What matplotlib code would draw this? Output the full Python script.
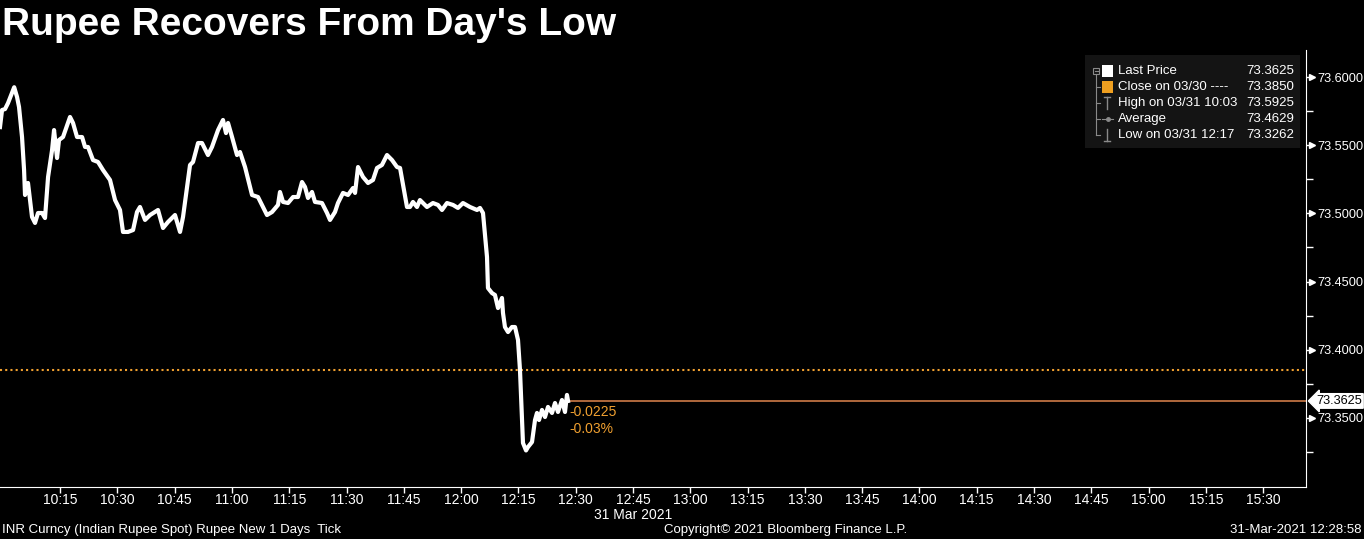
import numpy as np
import pandas as pd
import matplotlib
matplotlib.use("Agg")
import matplotlib.pyplot as plt
import matplotlib.dates as mdates
import matplotlib.transforms as mtransforms
from matplotlib.patches import Rectangle

plt.rcParams['font.family'] = ['Liberation Sans', 'DejaVu Sans']

# INR spot ticks, 31 Mar 2021
times = ["09:59:17", "09:59:49", "10:00:36", "10:01:23", "10:03:00", "10:03:45", "10:04:16",
         "10:05:03", "10:05:35", "10:05:50", "10:06:37", "10:07:40", "10:08:27", "10:09:14",
         "10:10:17", "10:11:04", "10:11:52", "10:12:55", "10:13:26", "10:14:13", "10:14:44",
         "10:15:47", "10:17:37", "10:18:24", "10:19:27", "10:20:46", "10:21:33", "10:22:20",
         "10:23:38", "10:24:57", "10:26:15", "10:28:05", "10:29:24", "10:30:42", "10:31:29",
         "10:32:48", "10:34:07", "10:35:09", "10:35:56", "10:37:15", "10:38:34", "10:40:39",
         "10:41:58", "10:43:16", "10:45:06", "10:46:25", "10:47:12", "10:49:02", "10:49:49",
         "10:51:08", "10:52:10", "10:53:44", "10:54:47", "10:56:22", "10:57:40", "10:58:27",
         "10:58:59", "11:00:02", "11:01:20", "11:02:07", "11:03:26", "11:05:16", "11:06:50",
         "11:09:11", "11:10:30", "11:12:04", "11:12:35", "11:13:23", "11:14:41", "11:16:00",
         "11:17:18", "11:18:21", "11:19:08", "11:19:55", "11:20:58", "11:21:45", "11:23:35",
         "11:24:54", "11:25:41", "11:26:59", "11:27:46", "11:29:05", "11:30:24", "11:31:42",
         "11:32:14", "11:33:01", "11:34:19", "11:35:38", "11:36:56", "11:37:59", "11:39:17",
         "11:40:36", "11:41:55", "11:43:13", "11:44:01", "11:45:50", "11:46:37", "11:47:24",
         "11:48:27", "11:49:14", "11:50:02", "11:51:04", "11:52:38", "11:53:57", "11:55:00",
         "11:56:18", "11:57:53", "11:59:11", "12:00:30", "12:02:20", "12:04:10", "12:04:57",
         "12:05:44", "12:06:47", "12:07:02", "12:08:05", "12:08:52", "12:09:40", "12:10:42",
         "12:10:58", "12:11:29", "12:12:17", "12:13:19", "12:14:07", "12:14:54", "12:15:25",
         "12:16:12", "12:17:00", "12:17:31", "12:18:34", "12:19:21", "12:19:52", "12:20:24",
         "12:21:11", "12:21:58", "12:22:45", "12:23:48", "12:24:35", "12:25:22", "12:26:25",
         "12:27:12", "12:27:43", "12:28:00"]
prices = [73.5633, 73.5758, 73.5765, 73.5809, 73.5925, 73.5853, 73.5780,
          73.5560, 73.5318, 73.5135, 73.5223, 73.4974, 73.4930, 73.5003,
          73.5003, 73.4966, 73.5267, 73.5465, 73.5611, 73.5406, 73.5538,
          73.5560, 73.5707, 73.5663, 73.5560, 73.5560, 73.5487, 73.5487,
          73.5391, 73.5377, 73.5318, 73.5245, 73.5098, 73.5025, 73.4864,
          73.4864, 73.4878, 73.5010, 73.5047, 73.4952, 73.4988, 73.5025,
          73.4893, 73.4937, 73.4988, 73.4864, 73.4974, 73.5355, 73.5377,
          73.5516, 73.5516, 73.5428, 73.5487, 73.5611, 73.5685, 73.5589,
          73.5663, 73.5560, 73.5428, 73.5450, 73.5340, 73.5135, 73.5120,
          73.4988, 73.5010, 73.5062, 73.5157, 73.5084, 73.5076, 73.5120,
          73.5120, 73.5230, 73.5194, 73.5113, 73.5157, 73.5084, 73.5076,
          73.5003, 73.4952, 73.5010, 73.5076, 73.5150, 73.5135, 73.5186,
          73.5150, 73.5340, 73.5267, 73.5223, 73.5245, 73.5333, 73.5355,
          73.5428, 73.5391, 73.5340, 73.5333, 73.5047, 73.5047, 73.5084,
          73.5047, 73.5098, 73.5076, 73.5047, 73.5076, 73.5062, 73.5025,
          73.5076, 73.5062, 73.5040, 73.5076, 73.5047, 73.5025, 73.5040,
          73.5003, 73.4680, 73.4453, 73.4416, 73.4402, 73.4306, 73.4380,
          73.4270, 73.4167, 73.4130, 73.4167, 73.4167, 73.4072, 73.3852,
          73.3317, 73.3262, 73.3287, 73.3324, 73.3485, 73.3537, 73.3485,
          73.3559, 73.3507, 73.3581, 73.3537, 73.3610, 73.3544, 73.3632,
          73.3544, 73.3669, 73.3625]

legend_labels = ["Last Price", "Close on 03/30 ----", "High on 03/31 10:03", "Average", "Low on 03/31 12:17"]
legend_values = [73.3625, 73.3850, 73.5925, 73.4629, 73.3262]
last_price = 73.3625
prev_close = 73.3850

orange = "#f0a030"
W, H = 1364, 539

def fx(px):
    return px / W

def fy(py):
    return 1 - py / H

t = pd.to_datetime(["2021-03-31 " + s for s in times])

fig = plt.figure(figsize=(W / 100, H / 100), dpi=100, facecolor="black")
ax = fig.add_axes([0, fy(487), fx(1306), fy(50) - fy(487)], facecolor="black")

ax.plot(t, prices, color="white", lw=3, solid_joinstyle="round", zorder=5)

# previous close (dotted) and last price line
ax.axhline(prev_close, color=orange, lw=1.5, ls=(0, (1, 1.5)), zorder=2)
ax.hlines(last_price, t[-1], pd.Timestamp("2021-03-31 15:41:12"), color="#e0864e", lw=1.1, zorder=2)

chg = last_price - prev_close
pct = chg / prev_close * 100
ax.annotate(f"{chg:.4f}", (t[-1], last_price), xytext=(1, -3), textcoords="offset points",
            color=orange, fontsize=10, va="top", ha="left")
ax.annotate(f"{pct:.2f}%", (t[-1], last_price), xytext=(1, -15), textcoords="offset points",
            color=orange, fontsize=10, va="top", ha="left")

ax.set_xlim(pd.Timestamp("2021-03-31 09:59:17"), pd.Timestamp("2021-03-31 15:41:12"))
ax.set_ylim(73.2994, 73.6198)

xt = pd.date_range("2021-03-31 10:15", "2021-03-31 15:30", freq="15min")
ax.set_xticks(xt)
ax.xaxis.set_major_formatter(mdates.DateFormatter("%H:%M"))
ax.tick_params(axis="x", colors="white", labelsize=10, length=4, width=1, pad=0)
ax.text(pd.Timestamp("2021-03-31 12:45"), -0.064, "31 Mar 2021", transform=ax.get_xaxis_transform(),
        color="white", fontsize=10, ha="center", va="center")

ax.yaxis.tick_right()
ax.set_yticks(np.arange(73.35, 73.601, 0.05))
ax.set_yticks(np.arange(73.325, 73.62, 0.05), minor=True)
ax.yaxis.set_major_formatter(plt.FormatStrFormatter("%.4f"))
ax.tick_params(axis="y", which="major", colors="white", labelsize=9.2, length=5, width=1, pad=3)
ax.tick_params(axis="y", which="minor", colors="white", length=5, width=1)
tr = mtransforms.blended_transform_factory(ax.transAxes, ax.transData)
ax.plot([1.0 + 6 / 1306] * 6, np.arange(73.35, 73.601, 0.05), ">", color="white", ms=4,
        transform=tr, clip_on=False)

for s in ["top", "left"]:
    ax.spines[s].set_visible(False)
ax.spines["bottom"].set_color("white")
ax.spines["right"].set_color("white")

# last-price tag on the axis
ax.text(1.0 + 10 / 1306, last_price, f"{last_price:.4f}", transform=tr, color="black", fontsize=9.2,
        va="center", ha="left",
        bbox=dict(boxstyle="larrow,pad=0.1", fc="white", ec="white"), zorder=10, clip_on=False)

# legend box
fig.patches.append(Rectangle((fx(1085), fy(148)), fx(215), fy(55) - fy(148), transform=fig.transFigure,
                             facecolor="#141414", edgecolor="none", zorder=1))
rows = [71, 87, 103, 119, 135]
grey = "#8a8a8a"
fig.lines.append(plt.Line2D([fx(1096), fx(1096)], [fy(75), fy(135)], transform=fig.transFigure,
                            color=grey, lw=0.8))
fig.patches.append(Rectangle((fx(1093), fy(74)), fx(6), fy(68) - fy(74), transform=fig.transFigure,
                             facecolor="none", edgecolor=grey, lw=0.8))
fig.lines.append(plt.Line2D([fx(1094.5), fx(1097.5)], [fy(71), fy(71)], transform=fig.transFigure,
                            color=grey, lw=0.8))
for r in rows[1:]:
    fig.lines.append(plt.Line2D([fx(1096), fx(1100)], [fy(r), fy(r)], transform=fig.transFigure,
                                color=grey, lw=0.8))
fig.patches.append(Rectangle((fx(1102), fy(77)), fx(11), fy(65) - fy(77), transform=fig.transFigure,
                             facecolor="white", edgecolor="none"))
fig.patches.append(Rectangle((fx(1102), fy(93)), fx(11), fy(81) - fy(93), transform=fig.transFigure,
                             facecolor="#f0a020", edgecolor="none"))
fig.lines.append(plt.Line2D([fx(1104), fx(1110)], [fy(97), fy(97)], transform=fig.transFigure, color=grey, lw=1))
fig.lines.append(plt.Line2D([fx(1107), fx(1107)], [fy(97), fy(109)], transform=fig.transFigure, color=grey, lw=1))
fig.lines.append(plt.Line2D([fx(1102), fx(1113)], [fy(119), fy(119)], transform=fig.transFigure, color=grey, lw=0.8))
fig.lines.append(plt.Line2D([fx(1107.5)], [fy(119)], transform=fig.transFigure, color=grey, marker="o", ms=2.5))
fig.lines.append(plt.Line2D([fx(1104), fx(1110)], [fy(141), fy(141)], transform=fig.transFigure, color=grey, lw=1))
fig.lines.append(plt.Line2D([fx(1107), fx(1107)], [fy(129), fy(141)], transform=fig.transFigure, color=grey, lw=1))
for r, lab, val in zip(rows, legend_labels, legend_values):
    fig.text(fx(1118), fy(r), lab, color="white", fontsize=9.5, va="center", ha="left")
    fig.text(fx(1294), fy(r), f"{val:.4f}", color="white", fontsize=9.5, va="center", ha="right")

# title and footer
fig.text(fx(2), fy(25), "Rupee Recovers From Day's Low", color="white", fontsize=28, fontweight="bold",
         va="center", ha="left")
fig.text(fx(2), fy(530), "INR Curncy (Indian Rupee Spot) Rupee New 1 Days  Tick", color="white",
         fontsize=9.5, va="center", ha="left")
fig.text(fx(786), fy(530), "Copyright\u00a9 2021 Bloomberg Finance L.P.", color="white",
         fontsize=9.5, va="center", ha="center")
fig.text(fx(1362), fy(530), "31-Mar-2021 12:28:58", color="white", fontsize=9.5, va="center", ha="right")

fig.savefig("out.png", dpi=100, facecolor="black")
